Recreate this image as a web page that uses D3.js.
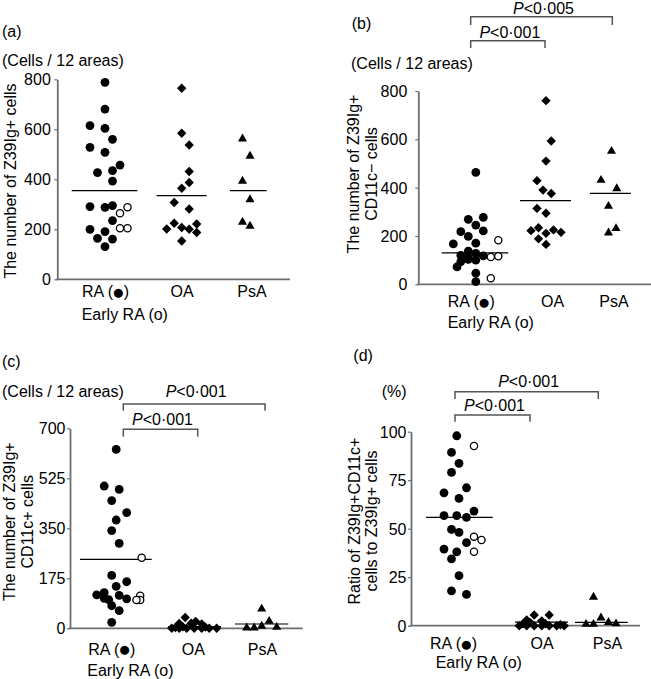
<!DOCTYPE html>
<html><head><meta charset="utf-8">
<script src="https://cdn.jsdelivr.net/npm/d3@7"></script>
<style>
body{margin:0;background:#fff}
svg{display:block;font-family:"Liberation Sans",Arial,Helvetica,sans-serif;}
</style></head><body>
<svg id="chart" width="651" height="679"></svg>
<script>
// ---------- DATA ----------
const categories = ["RA", "OA", "PsA"];
const categoryLabels = ["RA (●)", "OA", "PsA"];
const earlyLabel = "Early RA (o)";

// (a) Z39Ig+ cells
const aTicks = [0, 200, 400, 600, 800];
const aRA = [788, 681, 615, 604, 560, 528, 508, 457, 427, 435, 393, 291, 288, 295, 235, 200, 191, 164, 161, 131];
const aRASlot = [0, 0, -2, 0, 1, -2, 0, 2, -1, 1, 1, -2, 0, 1, 1, -2, 0, -1, 1, 0];
const aEarly = [264, 288, 204, 204];
const aEarlySlot = [2, 3, 2, 3];
const aOA = [764, 584, 537, 431, 387, 364, 307, 281, 224, 201, 207, 200, 221, 187, 153];
const aOASlot = [0, 0, 1, 1, 1, 0, -1, 1, -1, -2, 0, 1, 2, 2, 0];
const aPsA = [560, 491, 391, 317, 227, 211];
const aPsASlot = [-1, 0, -1, 0, -1, 0];
const aMeans = [355, 335, 355];

// (b) Z39Ig+ CD11c- cells
const bTicks = [0, 200, 400, 600, 800];
const bRA = [463, 269, 277, 245, 218, 221, 198, 167, 170, 137, 120, 128, 118, 112, 100, 94, 103, 72, 46, 11];
const bRASlot = [1, 0, 2, 1, -1, 2, 0, -2, 1, 0, -1, 1, 2, 0, 1, -1, 0, -1.5, 1, 1];
const bEarly = [182, 113, 116, 25];
const bEarlySlot = [4, 3, 4, 3];
const bOA = [760, 593, 510, 429, 390, 376, 314, 294, 222, 234, 211, 225, 215, 188, 165];
const bOASlot = [0, 0.7, 0, -1.2, -0.4, 0.7, -1.2, 0, -2, -1, 0, 1, 2, -1, 0];
const bPsA = [549, 429, 394, 321, 211, 229];
const bPsASlot = [0.4, -1, 1.1, 0, 0, 1];
const bMeans = [130, 346, 376];

// (c) Z39Ig+ CD11c+ cells
const cTicks = [0, 175, 350, 525, 700];
const cRA = [626, 498, 486, 447, 405, 379, 342, 297, 185, 163, 147, 117, 125, 115, 103, 105, 79, 62, 21, 100];
const cRASlot = [0.6, -1, 1, 0, 2, 0.6, 0, 1, 0, 2, 0.6, -2, -1, 1, 2, -1, 0, 1, 0, -0.4];
const cEarly = [247, 114, 99, 99];
const cEarlySlot = [4, 3.8, 3.8, 3.3];
const cOA = [0, 0, 0, 0, 0, 0, 0, 17, 38, 18, 24, 15, 3, 5, 4];
const cOASlot = [-3, -2, -1, 0, 1, 2, 3, -2, -1.2, -0.4, 0.2, 1, -2.5, -1.5, 1.5];
const cPsA = [0, 0, 6, 23, 2, 66];
const cPsASlot = [-2, -1, 0, 1, 2, 0];
const cMeans = [241.5, 6, 15];

// (d) ratio %
const dTicks = [0, 25, 50, 75, 100];
const dRA = [97.9, 89.3, 83.7, 79.0, 68.5, 71.1, 65.6, 56.7, 56.7, 55.8, 59.1, 49.6, 48.1, 42.8, 39.5, 38.1, 34.4, 25.8, 17.9, 16.1];
const dRASlot = [-0.3, -1, 0, -1, -2, 1, 0, -2, -0.3, 1, 2, -1, 0, 1, -2, -0.3, -1, 0, -1, 1];
const dEarly = [92.6, 45.9, 44.2, 38.1];
const dEarlySlot = [2, 2, 3, 2];
const dOA = [0, 0, 0, 0, 0, 0, 0, 3, 5.5, 2.5, 5.5, 1, 1.5, 1, 0.5];
const dOASlot = [-3, -2, -1, 0, 1, 2, 3, -2, -1, 0, 1, -2.5, -1.5, 0.5, 2.5];
const dPsA = [0.5, 0.5, 14.5, 3.8, 1.5, 0.8];
const dPsASlot = [-2, -1, -1, 0, 1, 2];
const dMeans = [55.8, 1.8, 1.7];

const panels = [
  {letter: "(a)", units: "(Cells / 12 areas)", title: ["The number of Z39Ig+ cells"], domain: [0, 800], ticks: aTicks,
   ra: aRA, raSlot: aRASlot, early: aEarly, earlySlot: aEarlySlot, oa: aOA, oaSlot: aOASlot, psa: aPsA, psaSlot: aPsASlot, means: aMeans, brackets: []},
  {letter: "(b)", units: "(Cells / 12 areas)", title: ["The number of Z39Ig+", "CD11c\u2212 cells"], domain: [0, 800], ticks: bTicks,
   ra: bRA, raSlot: bRASlot, early: bEarly, earlySlot: bEarlySlot, oa: bOA, oaSlot: bOASlot, psa: bPsA, psaSlot: bPsASlot, means: bMeans,
   brackets: [{to: 2, p: "<0\u00b7005"}, {to: 1, p: "<0\u00b7001"}]},
  {letter: "(c)", units: "(Cells / 12 areas)", title: ["The number of Z39Ig+", "CD11c+ cells"], domain: [0, 700], ticks: cTicks,
   ra: cRA, raSlot: cRASlot, early: cEarly, earlySlot: cEarlySlot, oa: cOA, oaSlot: cOASlot, psa: cPsA, psaSlot: cPsASlot, means: cMeans,
   brackets: [{to: 2, p: "<0\u00b7001"}, {to: 1, p: "<0\u00b7001"}]},
  {letter: "(d)", units: "(%)", title: ["Ratio of Z39Ig+CD11c+", "cells to Z39Ig+ cells"], domain: [0, 100], ticks: dTicks,
   ra: dRA, raSlot: dRASlot, early: dEarly, earlySlot: dEarlySlot, oa: dOA, oaSlot: dOASlot, psa: dPsA, psaSlot: dPsASlot, means: dMeans,
   brackets: [{to: 2, p: "<0\u00b7001"}, {to: 1, p: "<0\u00b7001"}]}
];

// ---------- LAYOUT ----------
const layouts = [
  {ax: 57.3, yTop: 79.3, yBot: 279.3, xEnd: 290, centres: [105, 181.7, 250], slotW: 7.5,
   labelX: [105.5, 182, 252], labelY: 291.7, earlyX: 81.7, earlyY: 314, letterPos: [2, 31.7], unitsPos: [2, 60],
   titleX: [10], titleY: 181, tickGap: 6.5,
   meanX: [[71.7, 137.3], [156.7, 206.7], [230, 266.7]], bx: [], br: []},
  {ax: 418.3, yTop: 91, yBot: 284.3, xEnd: 651, centres: [468.3, 546, 608.5], slotW: 7.5,
   labelX: [471.3, 552.5, 614], labelY: 301.7, earlyX: 447.7, earlyY: 322.3, letterPos: [351.7, 23.3], unitsPos: [351, 63.3],
   titleX: [353.3, 371.7], titleY: 174, tickGap: 11,
   meanX: [[441.7, 508.3], [520, 571], [590, 631]],
   bx: [470.7, 545, 612.3], br: [{y: 16.7, drop: 8.3, ty: 8.3}, {y: 40.7, drop: 7.3, ty: 32}]},
  {ax: 70, yTop: 428.3, yBot: 628.3, xEnd: 302.7, centres: [111.7, 194.2, 261.7], slotW: 7.5,
   labelX: [111.7, 193.3, 262.5], labelY: 649, earlyX: 87.3, earlyY: 670, letterPos: [2, 361.7], unitsPos: [2, 391],
   titleX: [9, 27.5], titleY: 521.7, tickGap: 4.5,
   meanX: [[80, 151.7], [168, 221], [235, 288.3]],
   bx: [123.3, 197.7, 265], br: [{y: 404, drop: 6.7, ty: 391.7}, {y: 429.3, drop: 7.4, ty: 419.3}]},
  {ax: 411, yTop: 431.7, yBot: 625.7, xEnd: 640, centres: [459, 541.7, 601], slotW: 7.5,
   labelX: [453.5, 542, 607.5], labelY: 643.3, earlyX: 435.7, earlyY: 662.3, letterPos: [353.3, 355], unitsPos: [381.7, 391.7],
   titleX: [354, 371.7], titleY: 521, tickGap: 4.5,
   meanX: [[426, 492.7], [515, 568], [575, 627.7]],
   bx: [455, 530, 598.3], br: [{y: 391.7, drop: 7.3, ty: 381.7}, {y: 415, drop: 6.7, ty: 405}]}
];

const FONT = 16;
const svg = d3.select("#chart");
const axisGrey = "#6e6e6e";

function centredText(g, x, y, txt, anchor) {
  return g.append("text").attr("x", x).attr("y", y).attr("dy", "0.35em")
    .attr("text-anchor", anchor || "start").attr("font-size", FONT).attr("fill", "#000").text(txt);
}

// label with a larger bullet glyph
function bulletLabel(g, x, y, lab) {
  const parts = lab.split("●");
  const t = g.append("text").attr("x", x).attr("y", y + FONT * 0.35)
    .attr("text-anchor", "middle").attr("font-size", FONT).attr("fill", "#000");
  t.append("tspan").text(parts[0]);
  if (parts.length > 1) {
    t.append("tspan").attr("font-size", 21).attr("dx", -1).attr("dy", 1.6).text("●");
    t.append("tspan").attr("dx", -1).attr("dy", -1.6).text(parts[1]);
  }
  return t;
}

function drawPanel(d, L) {
  const g = svg.append("g");
  const y = d3.scaleLinear().domain(d.domain).range([L.yBot, L.yTop]);
  const xc = d3.scaleOrdinal().domain(categories).range(L.centres);
  const px = (cat, slot) => xc(cat) + slot * L.slotW;

  // y axis
  const ga = g.append("g").attr("transform", `translate(${L.ax},0)`)
    .call(d3.axisLeft(y).tickValues(d.ticks).tickSizeInner(3).tickSizeOuter(0).tickPadding(L.tickGap - 3));
  ga.attr("font-family", null).attr("font-size", FONT);
  ga.select(".domain").attr("stroke", axisGrey).attr("stroke-width", 1.8);
  ga.selectAll(".tick line").attr("stroke", axisGrey).attr("stroke-width", 1.2);
  ga.selectAll(".tick text").attr("fill", "#000").attr("dy", "0.35em");

  // x axis (baseline)
  g.append("line").attr("x1", L.ax - 0.9).attr("x2", L.xEnd).attr("y1", y(0)).attr("y2", y(0))
    .attr("stroke", axisGrey).attr("stroke-width", 1.8);

  // mean lines
  g.selectAll("line.mean").data(d.means).join("line").attr("class", "mean")
    .attr("x1", (v, i) => L.meanX[i][0]).attr("x2", (v, i) => L.meanX[i][1])
    .attr("y1", v => y(v)).attr("y2", v => y(v))
    .attr("stroke", "#000").attr("stroke-width", 1.2);

  // RA filled circles
  g.selectAll("circle.ra").data(d.ra).join("circle").attr("class", "ra")
    .attr("cx", (v, i) => px("RA", d.raSlot[i])).attr("cy", v => y(v)).attr("r", 4.4).attr("fill", "#000");
  // early RA open circles
  g.selectAll("circle.early").data(d.early).join("circle").attr("class", "early")
    .attr("cx", (v, i) => px("RA", d.earlySlot[i])).attr("cy", v => y(v)).attr("r", 3.6)
    .attr("fill", "#fff").attr("stroke", "#000").attr("stroke-width", 1.3);
  // OA diamonds
  const diamond = d3.symbol().type(d3.symbolSquare).size(44);
  g.selectAll("path.oa").data(d.oa).join("path").attr("class", "oa")
    .attr("d", diamond)
    .attr("transform", (v, i) => `translate(${px("OA", d.oaSlot[i])},${y(v)}) rotate(45)`)
    .attr("fill", "#000");
  // PsA triangles
  const tri = d3.symbol().type(d3.symbolTriangle).size(36);
  g.selectAll("path.psa").data(d.psa).join("path").attr("class", "psa")
    .attr("d", tri)
    .attr("transform", (v, i) => `translate(${px("PsA", d.psaSlot[i])},${y(v) - 0.5})`)
    .attr("fill", "#000");

  // category labels
  categoryLabels.forEach((lab, i) => bulletLabel(g, L.labelX[i], L.labelY, lab));
  centredText(g, L.earlyX, L.earlyY, earlyLabel, "start");

  // panel letter and units
  centredText(g, L.letterPos[0], L.letterPos[1], d.letter, "start");
  centredText(g, L.unitsPos[0], L.unitsPos[1], d.units, "start");

  // y title
  d.title.forEach((t, i) => {
    g.append("text").attr("transform", `translate(${L.titleX[i]},${L.titleY}) rotate(-90)`)
      .attr("dy", "0.35em").attr("text-anchor", "middle").attr("font-size", FONT).attr("fill", "#000").text(t);
  });

  // significance brackets
  d.brackets.forEach((b, k) => {
    const B = L.br[k];
    const x0 = L.bx[0], x1 = L.bx[b.to];
    g.append("path")
      .attr("d", `M${x0},${B.y + B.drop}V${B.y}H${x1}V${B.y + B.drop}`)
      .attr("fill", "none").attr("stroke", "#555").attr("stroke-width", 1.5);
    const t = g.append("text").attr("x", (x0 + x1) / 2 + 2).attr("y", B.ty).attr("dy", "0.35em")
      .attr("text-anchor", "middle").attr("font-size", FONT).attr("fill", "#000");
    t.append("tspan").attr("font-style", "italic").text("P");
    t.append("tspan").text(b.p);
  });
}

panels.forEach((p, i) => drawPanel(p, layouts[i]));
</script>
</body></html>
